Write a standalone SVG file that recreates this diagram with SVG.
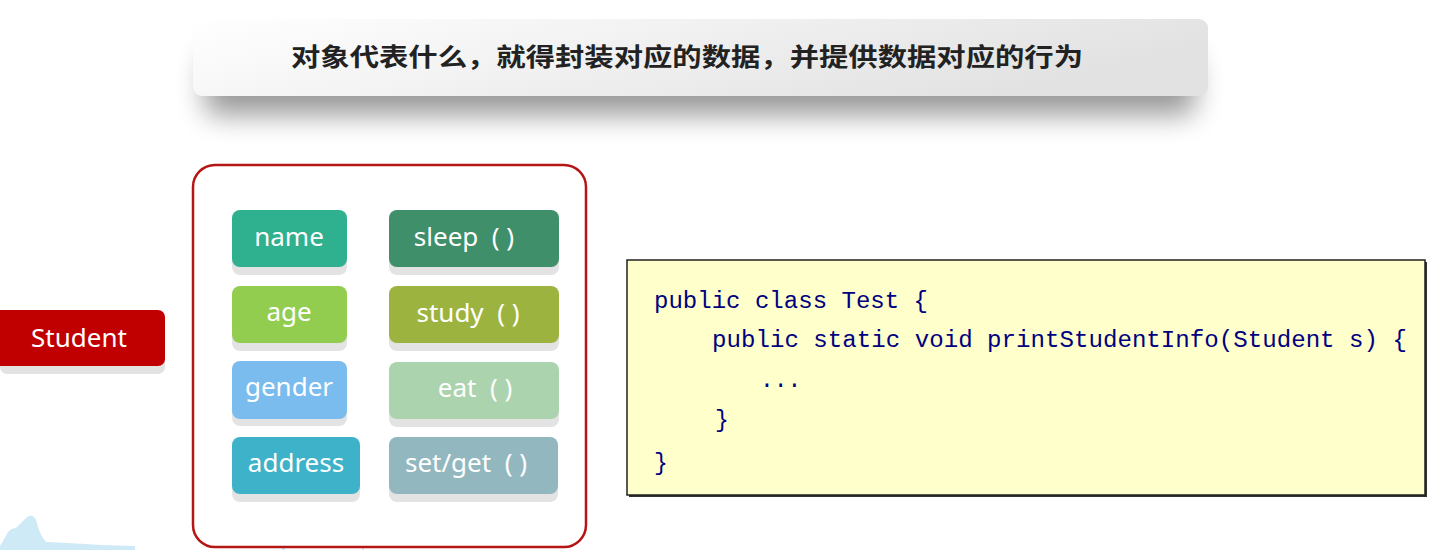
<svg xmlns="http://www.w3.org/2000/svg" width="1444" height="550" viewBox="0 0 1444 550">
  <defs>
    <linearGradient id="hdrGrad" x1="0" y1="0" x2="1" y2="0.3">
      <stop offset="0" stop-color="#ffffff"/>
      <stop offset="1" stop-color="#e2e2e2"/>
    </linearGradient>
    <filter id="hdrShadow" x="-10%" y="-60%" width="120%" height="280%">
      <feGaussianBlur stdDeviation="14"/>
    </filter>
  </defs>
  <style>
    .lbl { font-family: "Noto Sans", "Open Sans", sans-serif; font-size: 26px; fill: #ffffff; text-anchor: middle; }
    .shadow { fill: #e3e3e3; }
    .code { font-family: "Liberation Mono", "DejaVu Sans Mono", monospace; font-size: 23px; fill: #000080; }
    .hdr { font-family: "Noto Sans CJK SC", "Noto Sans", sans-serif; font-size: 25px; font-weight: bold; fill: #222222; }
  </style>
  <rect width="1444" height="550" fill="#ffffff"/>

  <!-- bottom decoration -->
  <path d="M0,550 L0,546 Q5,538 8,532 Q12,528 16,528 Q22,522 26,518 Q32,512 36,520 Q40,536 46,542 Q70,543 100,545 L135,546 L135,550 Z" fill="#cdeaf6"/>
  <rect x="282" y="547" width="3" height="3" fill="#cdeaf6"/>
  <rect x="362" y="548" width="2" height="2" fill="#cdeaf6"/>

  <!-- header banner -->
  <g id="header">
    <rect x="205" y="55" width="990" height="60" rx="10" fill="#000000" opacity="0.4" filter="url(#hdrShadow)"/>
    <rect x="193" y="19" width="1015" height="77" rx="9" fill="url(#hdrGrad)"/>
    <text class="hdr" x="291" y="66" textLength="792" lengthAdjust="spacingAndGlyphs">对象代表什么，就得封装对应的数据，并提供数据对应的行为</text>
  </g>

  <!-- Student -->
  <g id="student">
    <rect class="shadow" x="0" y="318" width="165" height="56" rx="7"/>
    <rect x="-10" y="310" width="175" height="56" rx="7" fill="#c00000"/>
    <text class="lbl" x="79" y="347">Student</text>
  </g>

  <!-- container -->
  <g id="container">
    <rect x="193" y="165" width="393" height="382" rx="22" fill="#ffffff" stroke="#b51515" stroke-width="2.5"/>
  </g>

  <g id="name">
    <rect class="shadow" x="232" y="218" width="115" height="57" rx="8"/>
    <rect x="232" y="210" width="115" height="57" rx="8" fill="#2fb08f"/>
    <text class="lbl" x="289" y="246">name</text>
  </g>
  <g id="age">
    <rect class="shadow" x="232" y="294" width="115" height="57" rx="8"/>
    <rect x="232" y="286" width="115" height="57" rx="8" fill="#92cd50"/>
    <text class="lbl" x="289" y="321">age</text>
  </g>
  <g id="gender">
    <rect class="shadow" x="232" y="369" width="115" height="57" rx="8"/>
    <rect x="232" y="361" width="115" height="58" rx="8" fill="#7abced"/>
    <text class="lbl" x="289" y="396">gender</text>
  </g>
  <g id="address">
    <rect class="shadow" x="232" y="445" width="128" height="57" rx="8"/>
    <rect x="232" y="437" width="128" height="57" rx="8" fill="#3db2c8"/>
    <text class="lbl" x="296" y="472">address</text>
  </g>

  <g id="sleep">
    <rect class="shadow" x="389" y="218" width="170" height="57" rx="8"/>
    <rect x="389" y="210" width="170" height="57" rx="8" fill="#3f8f6b"/>
    <text class="lbl" x="464" y="246" xml:space="preserve">sleep  ( )</text>
  </g>
  <g id="study">
    <rect class="shadow" x="389" y="294" width="170" height="57" rx="8"/>
    <rect x="389" y="286" width="170" height="57" rx="8" fill="#9db33f"/>
    <text class="lbl" x="468" y="322" xml:space="preserve">study  ( )</text>
  </g>
  <g id="eat">
    <rect class="shadow" x="389" y="370" width="170" height="57" rx="8"/>
    <rect x="389" y="362" width="170" height="57" rx="8" fill="#abd3ae"/>
    <text class="lbl" x="475" y="397" xml:space="preserve">eat  ( )</text>
  </g>
  <g id="setget">
    <rect class="shadow" x="389" y="445" width="169" height="57" rx="8"/>
    <rect x="389" y="437" width="169" height="57" rx="8" fill="#93b7bf"/>
    <text class="lbl" x="466" y="472" xml:space="preserve">set/get  ( )</text>
  </g>

  <!-- code box -->
  <g id="code">
    <rect x="629" y="262" width="798" height="235" fill="#333333"/>
    <rect x="627" y="260" width="798" height="235" fill="#ffffcc" stroke="#222222" stroke-width="1.5"/>
    <text class="code" x="654" y="308" textLength="274" lengthAdjust="spacingAndGlyphs">public class Test {</text>
    <text class="code" x="712" y="347" textLength="695" lengthAdjust="spacingAndGlyphs">public static void printStudentInfo(Student s) {</text>
    <text class="code" x="760" y="387">...</text>
    <text class="code" x="715" y="427">}</text>
    <text class="code" x="654" y="470">}</text>
  </g>
</svg>
